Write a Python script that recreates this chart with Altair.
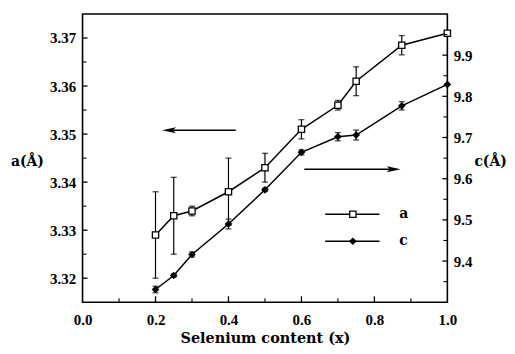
import altair as alt
import pandas as pd

# ---- data ----
x_vals = [0.2, 0.25, 0.3, 0.4, 0.5, 0.6, 0.7, 0.75, 0.875, 1.0]
a_vals = [3.329, 3.333, 3.334, 3.338, 3.343, 3.351, 3.356, 3.361, 3.3685, 3.371]
a_err = [0.009, 0.008, 0.001, 0.007, 0.003, 0.002, 0.001, 0.003, 0.002, 0.0]
c_vals = [9.331, 9.365, 9.416, 9.490, 9.573, 9.664, 9.702, 9.706, 9.777, 9.829]
c_err = [0.008, 0.004, 0.006, 0.012, 0.004, 0.006, 0.010, 0.012, 0.010, 0.0]

x_major = [0.2, 0.4, 0.6, 0.8]
x_minor = [0.1, 0.3, 0.5, 0.7, 0.9]
x_labels = [0.0, 0.2, 0.4, 0.6, 0.8, 1.0]
a_major = [3.32, 3.33, 3.34, 3.35, 3.36, 3.37]
a_minor = [3.325, 3.335, 3.345, 3.355, 3.365]
c_major = [9.4, 9.5, 9.6, 9.7, 9.8, 9.9]
c_minor = [9.35, 9.45, 9.55, 9.65, 9.75, 9.85, 9.95]

# arrows (data space of left axis)
arrow_left = {"x": 0.237, "x2": 0.42, "ya": 3.3508}
arrow_right = {"x": 0.608, "x2": 0.853, "ya": 3.3427}
# legend rows (data space of left axis)
leg_labels = ["a", "c"]
leg_y = [3.3333, 3.3277]
leg_x1, leg_x2, leg_xm, leg_xt = 0.665, 0.814, 0.741, 0.868

LFONT = "Liberation Serif"   # tick labels
TFONT = "DejaVu Serif"       # titles / legend text
W, H = 367, 290

df_a = pd.DataFrame({"x": x_vals, "ya": a_vals, "err": a_err})
df_a["lo"] = df_a["ya"] - df_a["err"]
df_a["hi"] = df_a["ya"] + df_a["err"]
df_a_err = df_a[df_a["err"] > 0]
df_a_caps = pd.DataFrame({"x": list(df_a_err["x"]) * 2,
                          "ya": list(df_a_err["lo"]) + list(df_a_err["hi"])})

df_c = pd.DataFrame({"x": x_vals, "yc": c_vals, "err": c_err})
df_c["lo"] = df_c["yc"] - df_c["err"]
df_c["hi"] = df_c["yc"] + df_c["err"]
df_c_err = df_c[df_c["err"] > 0]
df_c_caps = pd.DataFrame({"x": list(df_c_err["x"]) * 2,
                          "yc": list(df_c_err["lo"]) + list(df_c_err["hi"])})

xs = alt.Scale(domain=[0, 1], nice=False, zero=False)
sa = alt.Scale(domain=[3.315, 3.375], nice=False, zero=False)
sc = alt.Scale(domain=[9.3, 10.0], nice=False, zero=False)

xaxis = alt.Axis(values=x_labels, format=".1f", labelPadding=22, labelBaseline="alphabetic",
                 labelFlush=False, titleY=40, titleBaseline="alphabetic",
                 titleFontSize=14.5)
aaxis = alt.Axis(values=a_major, format=".2f", labelPadding=7, labelFlush=False,
                 titleAngle=0, titleX=-56, titleY=152, titleAlign="center",
                 titleBaseline="alphabetic")
caxis = alt.Axis(orient="right", values=c_major, format=".1f", labelPadding=6,
                 labelFlush=False, titleAngle=0, titleX=43, titleY=152,
                 titleAlign="center", titleBaseline="alphabetic")

XT = "Selenium content (x)"


def X(f="x"):
    return alt.X(f, type="quantitative", scale=xs, axis=xaxis, title=XT)


def YA(f="ya"):
    return alt.Y(f, type="quantitative", scale=sa, axis=aaxis, title="a(Å)")


def YC(f="yc"):
    return alt.Y(f, type="quantitative", scale=sc, axis=caxis, title="c(Å)")


# ---------- left (a) layer ----------
a_line = alt.Chart(df_a).mark_line(color="black", strokeWidth=1.5).encode(x=X(), y=YA())
a_bar = alt.Chart(df_a_err).mark_rule(color="black", strokeWidth=1.2).encode(
    x=X(), y=YA("lo"), y2="hi")
a_cap = alt.Chart(df_a_caps).mark_tick(color="black", orient="horizontal", size=6,
                                       thickness=1.3).encode(x=X(), y=YA())
a_pts = alt.Chart(df_a).mark_point(shape="square", size=40, filled=True, fill="white",
                                   stroke="black", strokeWidth=1.3, opacity=1).encode(
    x=X(), y=YA())

df_arrows = pd.DataFrame([arrow_left, arrow_right])
arr_lines = alt.Chart(df_arrows).mark_rule(color="black", strokeWidth=1.5).encode(
    x=X(), x2="x2", y=YA())
df_head_l = pd.DataFrame({"x": [arrow_left["x"]], "ya": [arrow_left["ya"]]})
df_head_r = pd.DataFrame({"x": [arrow_right["x2"]], "ya": [arrow_right["ya"]]})
head_l = alt.Chart(df_head_l).mark_point(shape="M-1,0L1,-0.43L0.55,0L1,0.43Z", size=196,
                                         filled=True, color="black", opacity=1).encode(
    x=X(), y=YA())
head_r = alt.Chart(df_head_r).mark_point(shape="M1,0L-1,-0.43L-0.55,0L-1,0.43Z", size=196,
                                         filled=True, color="black", opacity=1).encode(
    x=X(), y=YA())

df_leg = pd.DataFrame({"label": leg_labels, "ya": leg_y,
                       "x": [leg_x1] * 2, "x2": [leg_x2] * 2,
                       "xm": [leg_xm] * 2, "xt": [leg_xt] * 2})
leg_lines = alt.Chart(df_leg).mark_rule(color="black", strokeWidth=1.5).encode(
    x=X(), x2="x2", y=YA())
leg_a = alt.Chart(df_leg[df_leg["label"] == "a"]).mark_point(
    shape="square", size=40, filled=True, fill="white", stroke="black",
    strokeWidth=1.3, opacity=1).encode(x=X("xm"), y=YA())
leg_c = alt.Chart(df_leg[df_leg["label"] == "c"]).mark_point(
    shape="diamond", size=60, filled=True, color="black", opacity=1).encode(
    x=X("xm"), y=YA())
leg_txt = alt.Chart(df_leg).mark_text(font=TFONT, fontWeight="bold", fontSize=14,
                                      align="left", baseline="middle", color="black").encode(
    x=X("xt"), y=YA(), text="label:N")

# inward axis ticks
df_xmaj = pd.DataFrame({"x": x_major})
df_xmin = pd.DataFrame({"x": x_minor})
xt_maj = alt.Chart(df_xmaj).mark_rule(color="black", strokeWidth=1.3).encode(
    x=X(), y=alt.value(H), y2=alt.value(H - 6))
xt_min = alt.Chart(df_xmin).mark_rule(color="black", strokeWidth=1.1).encode(
    x=X(), y=alt.value(H), y2=alt.value(H - 4))
df_amaj = pd.DataFrame({"ya": a_major})
df_amin = pd.DataFrame({"ya": a_minor})
at_maj = alt.Chart(df_amaj).mark_rule(color="black", strokeWidth=1.3).encode(
    y=YA(), x=alt.value(0), x2=alt.value(5))
at_min = alt.Chart(df_amin).mark_rule(color="black", strokeWidth=1.1).encode(
    y=YA(), x=alt.value(0), x2=alt.value(4))

left = alt.layer(a_line, a_bar, a_cap, a_pts, arr_lines, head_l, head_r,
                 leg_lines, leg_a, leg_c, leg_txt, xt_maj, xt_min, at_maj, at_min)

# ---------- right (c) layer ----------
c_line = alt.Chart(df_c).mark_line(color="black", strokeWidth=1.5).encode(x=X(), y=YC())
c_bar = alt.Chart(df_c_err).mark_rule(color="black", strokeWidth=1.2).encode(
    x=X(), y=YC("lo"), y2="hi")
c_cap = alt.Chart(df_c_caps).mark_tick(color="black", orient="horizontal", size=6,
                                       thickness=1.3).encode(x=X(), y=YC())
c_pts = alt.Chart(df_c).mark_point(shape="diamond", size=60, filled=True, color="black",
                                   opacity=1).encode(x=X(), y=YC())
df_cmaj = pd.DataFrame({"yc": c_major})
df_cmin = pd.DataFrame({"yc": c_minor})
ct_maj = alt.Chart(df_cmaj).mark_rule(color="black", strokeWidth=1.3).encode(
    y=YC(), x=alt.value(W), x2=alt.value(W - 5))
ct_min = alt.Chart(df_cmin).mark_rule(color="black", strokeWidth=1.1).encode(
    y=YC(), x=alt.value(W), x2=alt.value(W - 4))

right = alt.layer(c_line, c_bar, c_cap, c_pts, ct_maj, ct_min)

chart = alt.layer(left, right).resolve_scale(y="independent").properties(
    width=W, height=H,
    autosize=alt.AutoSizeParams(type="none"),
    padding={"left": 75, "top": 5, "right": 60, "bottom": 43},
    background="white",
).configure_view(stroke="black", strokeWidth=1.6).configure_axis(
    grid=False, ticks=False, tickSize=0, domain=False,
    labelFont=LFONT, labelFontWeight="bold", labelFontSize=15, labelColor="black",
    titleFont=TFONT, titleFontWeight="bold", titleFontSize=14, titleColor="black",
).configure_text(font=TFONT)

chart.save("out.html", embed_options={"renderer": "svg", "actions": False})
